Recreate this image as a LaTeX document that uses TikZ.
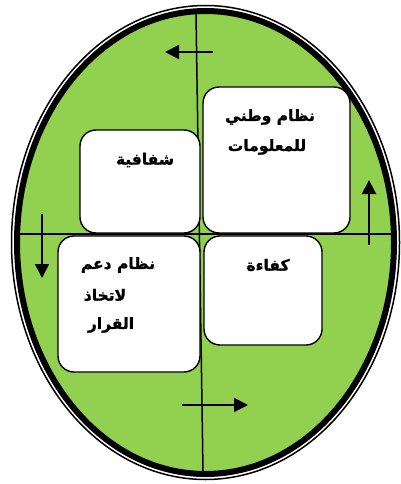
\documentclass[tikz,border=0pt]{standalone}
\usepackage{fontspec}
\newfontfamily\arabicfont[Script=Arabic, BoldFont={DejaVu Sans Bold}, BoldFeatures={FakeBold=1.2}]{DejaVu Sans}
\TeXXeTstate=1
\usetikzlibrary{arrows.meta}
\definecolor{leafgreen}{RGB}{146,208,80}
\tikzset{
  card/.style={draw=black, line width=1.4pt, fill=white, rounded corners=16pt},
  axisline/.style={draw=black, line width=1.5pt},
  cyclearrow/.style={draw=black, line width=2pt, -{Triangle[length=14pt,width=14pt]}},
  label/.style={font=\arabicfont\bfseries\fontsize{15.5}{18}\selectfont, inner sep=0pt}
}
\begin{document}
\begin{tikzpicture}[x=1pt,y=-1pt]
\useasboundingbox (0,0) rectangle (401,484);
% ellipse
\fill[leafgreen] (205.5,242.5) ellipse [x radius=188.5, y radius=231.5];
\draw[line width=1.5pt] (205.5,242.5) ellipse [x radius=194, y radius=237];
\draw[line width=6pt] (205.5,242.5) ellipse [x radius=188.5, y radius=231.5];
% axes
\coordinate (vt) at (196,14);
\coordinate (vb) at (203,471);
\coordinate (hl) at (19,234);
\coordinate (hr) at (393,234);
\draw[axisline] (vt) -- (vb);
\draw[axisline] (hl) -- (hr);
% cards
\draw[card] (203,87) rectangle (350,233);
\draw[card] (80,130) rectangle (200,233);
\draw[card] (58,236) rectangle (200,372);
\draw[card] (204,236) rectangle (322,345);
% texts
\node[label] (tr1) at (270,117) {\beginR نظام وطني\endR};
\node[label] (tr2) at (267,147) {\beginR للمعلومات\endR};
\node[label] (sh) at (145,160) {\beginR شفافية\endR};
\node[label] (bl1) at (118,265) {\beginR نظام دعم\endR};
\node[label] (bl2) at (105,295) {\beginR لاتخاذ\endR};
\node[label] (bl3) at (111,325) {\beginR القرار\endR};
\node[label] (kf) at (268,265) {\beginR كفاءة\endR};
% arrows
\coordinate (a1s) at (213,52); \coordinate (a1e) at (165,52);
\coordinate (a2s) at (42,214); \coordinate (a2e) at (42,278);
\coordinate (a3s) at (182,405); \coordinate (a3e) at (248,405);
\coordinate (a4s) at (369,245); \coordinate (a4e) at (369,180);
\draw[cyclearrow] (a1s) -- (a1e);
\draw[cyclearrow] (a2s) -- (a2e);
\draw[cyclearrow] (a3s) -- (a3e);
\draw[cyclearrow] (a4s) -- (a4e);
\end{tikzpicture}
\end{document}
